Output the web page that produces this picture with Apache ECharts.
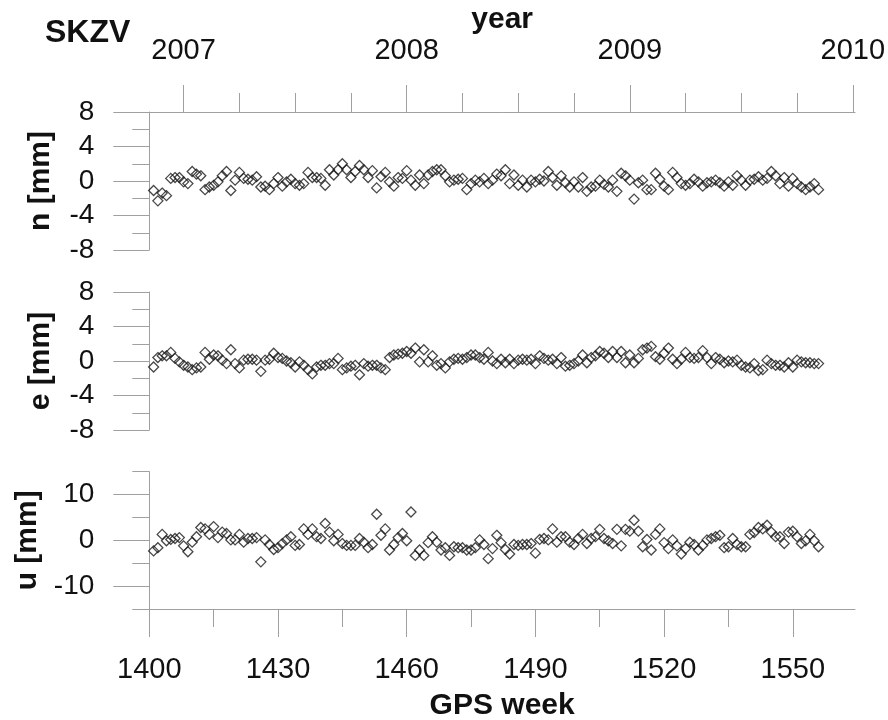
<!DOCTYPE html>
<html><head><meta charset="utf-8">
<script src="https://cdn.jsdelivr.net/npm/echarts@6/dist/echarts.min.js"></script>
<style>html,body{margin:0;padding:0;background:#fff}#c{width:888px;height:720px}</style>
</head><body><div id="c"></div>
<script>
const weeks = [1401,1402,1403,1404,1405,1406,1407,1408,1409,1410,1411,1412,1413,1414,1415,1416,1417,1418,1419,1420,
1421,1422,1423,1424,1425,1426,1427,1428,1429,1430,1431,1432,1433,1434,1435,1436,1437,1438,1439,1440,
1441,1442,1443,1444,1445,1446,1447,1448,1449,1450,1451,1452,1453,1454,1455,1456,1457,1458,1459,1460,
1461,1462,1463,1464,1465,1466,1467,1468,1469,1470,1471,1472,1473,1474,1475,1476,1477,1478,1479,1480,
1481,1482,1483,1484,1485,1486,1487,1488,1489,1490,1491,1492,1493,1494,1495,1496,1497,1498,1499,1500,
1501,1502,1503,1504,1505,1506,1507,1508,1509,1510,1511,1512,1513,1514,1515,1516,1517,1518,1519,1520,
1521,1522,1523,1524,1525,1526,1527,1528,1529,1530,1531,1532,1533,1534,1535,1536,1537,1538,1539,1540,
1541,1542,1543,1544,1545,1546,1547,1548,1549,1550,1551,1552,1553,1554,1555,1556];

const nValues = [-1.1,-2.3,-1.4,-1.7,0.3,0.4,0.4,-0.1,-0.3,1.1,
0.8,0.6,-1.0,-0.7,-0.5,-0.1,0.6,1.1,-1.1,0.1,
1.0,0.3,0.2,0.1,0.5,-0.7,-0.6,-1.0,-0.3,0.4,
-0.6,-0.1,0.2,-0.3,-0.5,-0.3,1.0,0.4,0.4,0.3,
-0.5,1.3,0.7,1.3,2.0,1.3,0.4,1.1,1.8,1.3,
0.4,1.2,-0.8,0.5,1.0,-0.1,-0.6,0.4,0.3,1.2,
0.1,-0.5,0.7,-0.3,0.7,1.1,1.3,1.3,0.6,-0.1,
0.1,0.2,0.3,-1.0,-0.3,0.1,-0.1,0.3,-0.3,0.1,
0.8,0.6,1.3,-0.3,0.7,-0.5,0.1,-0.7,0.1,-0.1,
0.2,0.0,1.1,0.4,-0.5,0.6,-0.2,-0.7,-0.1,-0.7,
0.4,-1.2,-0.7,-0.6,0.1,-0.4,-0.7,0.1,-1.2,0.9,
0.6,0.1,-2.1,-0.2,0.1,-1.0,-1.0,0.9,0.2,-0.6,
-1.0,1.0,0.4,-0.3,-0.5,-0.3,0.2,-0.1,-0.6,-0.2,
-0.1,0.1,-0.2,-0.6,-0.1,-0.5,0.6,0.1,-0.5,0.1,
0.2,0.5,0.1,0.3,1.1,0.6,-0.3,0.4,-0.6,0.3,
-0.3,-0.7,-1.0,-0.7,-0.3,-1.0];

const eValues = [-0.7,0.4,0.6,0.6,1.0,0.3,-0.1,-0.5,-0.7,-1.0,
-0.8,-0.7,1.0,0.2,0.7,0.6,0.1,-0.3,1.3,-0.3,
-0.8,0.1,0.2,0.2,0.1,-1.2,0.1,0.2,0.9,0.4,
0.3,0.0,-0.2,-0.7,-0.1,-0.5,-1.0,-1.5,-0.7,-0.5,
-0.5,-0.3,-0.3,0.3,-1.0,-0.8,-0.6,-0.5,-1.6,-0.3,
-0.6,-0.5,-0.5,-0.8,-1.0,0.4,0.7,0.8,0.9,1.1,
0.9,1.5,-0.1,1.3,-0.1,0.6,-0.5,-0.3,-0.8,-0.1,
0.2,0.3,0.2,0.4,0.7,0.7,0.4,0.2,1.0,0.0,
-0.3,0.2,-0.2,0.2,-0.3,0.1,0.2,0.1,0.2,-0.3,
0.6,0.3,0.1,0.2,-0.3,0.4,-0.6,-0.5,-0.3,0.0,
0.7,-0.2,0.4,0.6,1.1,0.9,0.4,1.1,0.4,1.1,
-0.2,0.7,-0.2,0.3,1.3,1.5,1.7,0.5,0.2,0.9,
1.5,0.2,-0.3,0.2,1.0,0.4,0.3,0.4,1.2,0.4,
-0.3,0.4,0.2,-0.2,0.0,-0.1,0.1,-0.5,-0.7,-0.8,
-0.3,-1.1,-1.0,0.1,-0.3,-0.5,-0.5,-0.7,-0.2,-0.7,
0.1,-0.1,-0.2,-0.2,-0.3,-0.3];

const uValues = [-2.3,-1.6,1.3,-0.1,0.2,0.4,0.6,-1.2,-2.5,-0.4,
0.8,2.8,2.5,1.3,3.0,0.6,1.8,1.5,0.1,0.1,
1.3,-0.4,0.4,0.4,0.6,-4.7,0.1,-0.9,-2.0,-1.6,
-0.7,0.1,0.8,-1.1,-0.9,2.5,1.3,2.5,0.8,0.4,
3.7,1.8,-0.1,1.3,-0.7,-1.1,-1.1,-1.1,0.4,-0.4,
-1.6,-0.9,5.7,1.1,2.5,-2.1,-0.9,0.6,1.5,-0.1,
6.2,-3.3,-2.1,-3.3,-0.5,0.8,-0.4,-2.1,-1.6,-3.3,
-1.4,-1.6,-1.6,-2.1,-2.1,-1.6,0.1,-0.9,-4.0,-1.8,
1.1,-0.5,-2.0,-3.0,-0.9,-1.1,-0.9,-0.9,-0.7,-2.8,
0.2,0.4,0.1,2.5,-0.4,0.8,0.8,-0.4,-0.9,0.4,
1.3,-0.7,0.4,0.8,2.4,0.4,-0.1,-0.7,2.4,-1.2,
2.4,2.0,4.4,2.0,-1.4,0.2,-2.1,1.3,2.5,-0.5,
-1.8,0.1,-1.2,-3.0,-1.8,-0.4,-0.9,-2.1,-1.1,0.1,
0.4,0.8,1.1,-1.6,-1.4,0.4,-0.9,-1.4,-1.4,1.3,
1.7,2.8,2.5,3.3,1.8,0.8,0.8,-0.7,1.8,2.0,
0.8,-0.7,-0.1,1.3,-0.1,-1.4];

const weekTicks = [1400,1430,1460,1490,1520,1550];
const weekMinorTicks = [1415,1445,1475,1505,1535];
const yearLabels = [2007,2008,2009,2010];
const yearStartWeeks = [1408,1460,1512,1564];
const quarterWeeks = [1421,1434,1447,1473,1486,1499,1525,1538,1551];
const uTicks = [-10,0,10];
const uMinorTicks = [-15,-5,5,15];

const WMIN = 1400, WMAX = 1564.5;
const FONT = 'Liberation Sans, Arial, sans-serif';
const AX = '#a0a0a0';
const LEFT = 149.3, RIGHT = 33;
const grids = [
  {left: LEFT, right: RIGHT, top: 112, height: 138},
  {left: LEFT, right: RIGHT, top: 292, height: 138},
  {left: LEFT, right: RIGHT, top: 471.7, height: 137.3}
];

function xBase(gi, pos) {
  return {type: 'value', gridIndex: gi, position: pos, min: WMIN, max: WMAX,
    axisLine: {show: false, onZero: false, lineStyle: {color: AX}},
    axisTick: {show: false}, axisLabel: {show: false}, splitLine: {show: false}};
}
const xAxes = [];
const x0 = xBase(0, 'top');
x0.axisLine.show = true;
x0.axisTick = {show: true, customValues: yearStartWeeks, length: 27, lineStyle: {color: AX}};
x0.axisLabel = {show: true, customValues: yearStartWeeks, margin: 47, fontSize: 29, color: '#111', fontFamily: FONT,
  formatter: v => String(yearLabels[yearStartWeeks.indexOf(Math.round(v))])};
x0.name = 'year'; x0.nameLocation = 'middle'; x0.nameGap = 76;
x0.nameTextStyle = {fontSize: 30, fontWeight: 'bold', color: '#111', fontFamily: FONT};
xAxes.push(x0);
const x1 = xBase(0, 'top');
x1.axisTick = {show: true, customValues: quarterWeeks, length: 19, lineStyle: {color: AX}};
xAxes.push(x1);
xAxes.push(xBase(1, 'bottom'));
const x3 = xBase(2, 'bottom');
x3.axisLine.show = true;
x3.axisTick = {show: true, customValues: weekTicks, length: 28, lineStyle: {color: AX}};
x3.axisLabel = {show: true, customValues: weekTicks, margin: 46, fontSize: 29, color: '#111', fontFamily: FONT,
  formatter: v => String(Math.round(v))};
x3.name = 'GPS week'; x3.nameLocation = 'middle'; x3.nameGap = 82;
x3.nameTextStyle = {fontSize: 30, fontWeight: 'bold', color: '#111', fontFamily: FONT};
xAxes.push(x3);
const x4 = xBase(2, 'bottom');
x4.axisTick = {show: true, customValues: weekMinorTicks, length: 18, lineStyle: {color: AX}};
xAxes.push(x4);

function yAxisNE(gi, name) {
  return {type: 'value', gridIndex: gi, position: 'left', min: -8, max: 8, interval: 4,
    axisLine: {show: true, onZero: false, lineStyle: {color: AX}},
    axisTick: {show: true, length: 36, lineStyle: {color: AX}},
    minorTick: {show: true, splitNumber: 2, length: 17, lineStyle: {color: AX}},
    axisLabel: {show: true, margin: 55, fontSize: 28, color: '#111', fontFamily: FONT},
    splitLine: {show: false},
    name: name, nameLocation: 'middle', nameGap: 94,
    nameTextStyle: {fontSize: 30, fontWeight: 'bold', color: '#111', fontFamily: FONT}};
}
const yAxes = [yAxisNE(0, 'n [mm]'), yAxisNE(1, 'e [mm]'),
  {type: 'value', gridIndex: 2, position: 'left', min: -15, max: 15,
    axisLine: {show: true, onZero: false, lineStyle: {color: AX}},
    axisTick: {show: true, customValues: uTicks, length: 36, lineStyle: {color: AX}},
    axisLabel: {show: true, customValues: uTicks, margin: 55, fontSize: 28, color: '#111', fontFamily: FONT},
    splitLine: {show: false},
    name: 'u [mm]', nameLocation: 'middle', nameGap: 94,
    nameTextStyle: {fontSize: 30, fontWeight: 'bold', color: '#111', fontFamily: FONT}},
  {type: 'value', gridIndex: 2, position: 'left', min: -15, max: 15,
    axisLine: {show: false, onZero: false},
    axisTick: {show: true, customValues: uMinorTicks, length: 17, lineStyle: {color: AX}},
    axisLabel: {show: false}, splitLine: {show: false}}
];

function pts(vals) { return weeks.map((w, i) => [w, vals[i]]); }
const markerStyle = {color: 'rgba(0,0,0,0)', borderColor: '#1a1a1a', borderWidth: 1.3};
function sc(vals, xi, yi) {
  return {type: 'scatter', xAxisIndex: xi, yAxisIndex: yi, data: pts(vals), symbol: 'diamond', symbolSize: 10,
    itemStyle: markerStyle, silent: true, animation: false};
}

const chart = echarts.init(document.getElementById('c'), null, {renderer: 'canvas'});
chart.setOption({
  backgroundColor: '#fff',
  animation: false,
  title: {text: 'SKZV', left: 40, top: 12, textStyle: {fontSize: 32, fontWeight: 'bold', color: '#111', fontFamily: FONT}},
  grid: grids.map(g => Object.assign({outerBoundsMode: 'none', containLabel: false}, g)),
  xAxis: xAxes,
  yAxis: yAxes,
  series: [sc(nValues, 0, 0), sc(eValues, 2, 1), sc(uValues, 3, 2)]
});
</script></body></html>
